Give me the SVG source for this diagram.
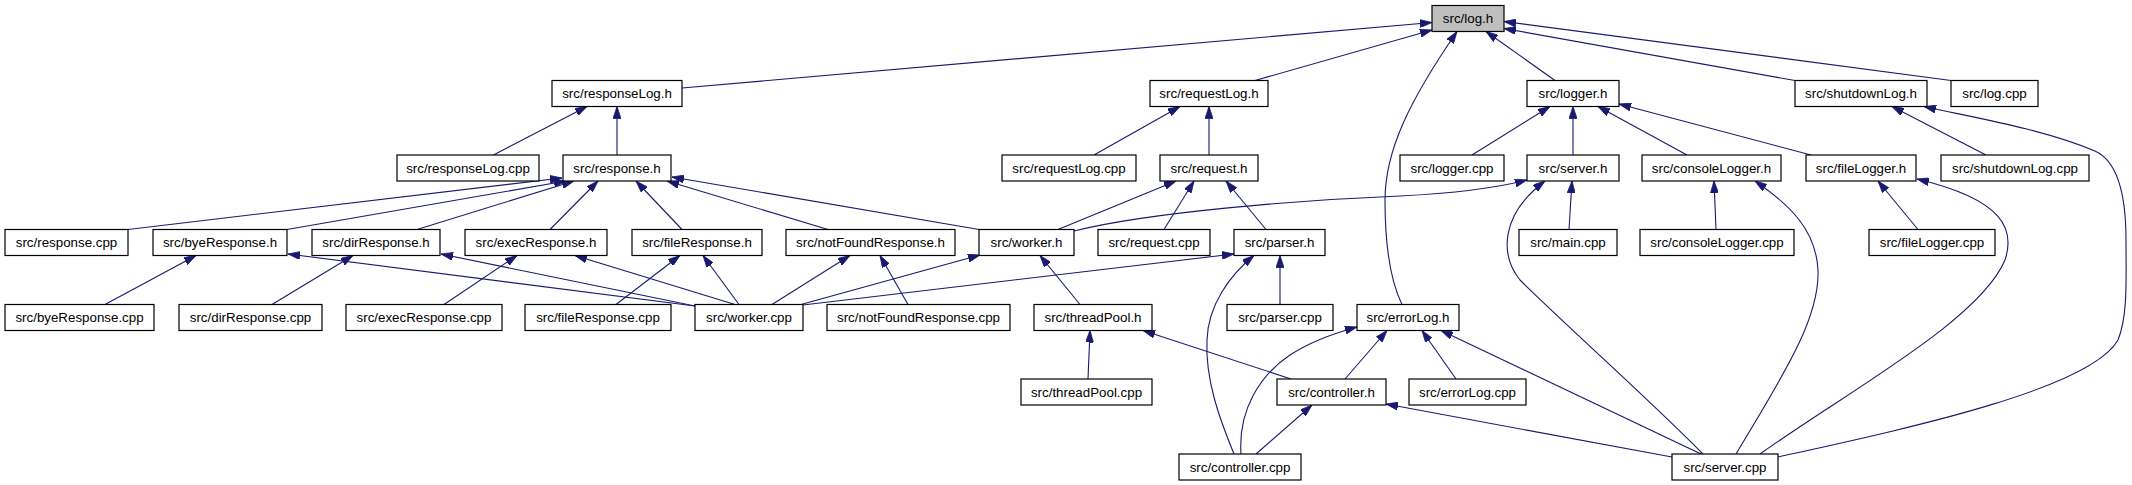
<svg xmlns="http://www.w3.org/2000/svg" width="2132" height="485" viewBox="0 0 2132 485">
<style>
.n rect{fill:#fff;stroke:#000;stroke-width:1.2}
.n.g rect{fill:#bfbfbf}
.n text{font-family:"Liberation Sans",Arial,sans-serif;font-size:13.33px;fill:#000;text-anchor:middle}
.e path{fill:none;stroke:#191970;stroke-width:1.1;marker-end:url(#ah)}
</style>
<defs>
<marker id="ah" viewBox="0 0 12 8" refX="12" refY="4" markerWidth="12" markerHeight="8" markerUnits="userSpaceOnUse" orient="auto">
<path d="M0,0 L12,4 L0,8 z" fill="#191970" stroke="#191970" stroke-width="0.8"/>
</marker>
</defs>
<rect width="2132" height="485" fill="#fff"/>
<g class="e" id="edges">
<path d="M682,88 L1432,22.5"/>
<path d="M1255,80.5 L1432,30"/>
<path d="M1402,304.5 C1390,280 1385,240 1385,200 C1385,150 1410,100 1457,31.5"/>
<path d="M1555,80.5 L1486,31.5"/>
<path d="M1795,80.5 L1504,28.5"/>
<path d="M1951,80.5 L1504,21.5"/>
<path d="M493.5,155 L587,106.5"/>
<path d="M617,155 L617,106.5"/>
<path d="M1094,155 L1180,106.5"/>
<path d="M1209,155 L1209,106.5"/>
<path d="M1472,155 L1550,106.5"/>
<path d="M1573,155 L1573,106.5"/>
<path d="M1687,155 L1598,106.5"/>
<path d="M1811,155 L1619,104"/>
<path d="M1986,155 L1892,106.5"/>
<path d="M1778,457 C1900,430 2090,390 2118,340 C2128,315 2126,280 2126,240 C2126,190 2115,160 2095,151 C2040,128 1970,117 1924,106.5"/>
<path d="M128,229.5 L562,178"/>
<path d="M287,229.5 L566,181"/>
<path d="M417,229.5 L574,181"/>
<path d="M550,229.5 L598,181"/>
<path d="M682,229.5 L636,181"/>
<path d="M828,229.5 L667,181"/>
<path d="M979,229.5 L672,177"/>
<path d="M105,304.5 L196,255.5"/>
<path d="M695,306 L288,254"/>
<path d="M272,304.5 L353,255.5"/>
<path d="M695,306 L441,254"/>
<path d="M444,304.5 L517,255.5"/>
<path d="M735,304.5 L575,255.5"/>
<path d="M616,304.5 L680,255.5"/>
<path d="M739,304.5 L703,255.5"/>
<path d="M772,304.5 L850,255.5"/>
<path d="M908,304.5 L880,255.5"/>
<path d="M801,304.5 L980,255"/>
<path d="M803,305 L1234,254"/>
<path d="M1080,304.5 L1040,255.5"/>
<path d="M1058,229.5 L1176,181"/>
<path d="M1164,229.5 L1194,181"/>
<path d="M1266,229.5 L1226,181"/>
<path d="M1074,231 C1150,212 1300,200 1400,196 C1460,193 1500,187 1527,180"/>
<path d="M1280,304.5 L1280,255.5"/>
<path d="M1234,454 C1220,420 1205,380 1207,340 C1208,305 1230,275 1254,255.5"/>
<path d="M1088,379 L1090,330.5"/>
<path d="M1291,379 L1143,330.5"/>
<path d="M1345,379 L1387,330.5"/>
<path d="M1241,454 C1238,410 1260,375 1290,355 C1310,342 1335,333 1357,327"/>
<path d="M1456,379 L1422,330.5"/>
<path d="M1701,454 L1441,330.5"/>
<path d="M1256,454 L1312,405"/>
<path d="M1672,457 L1386,404"/>
<path d="M1703,454 C1650,400 1560,320 1520,280 C1500,255 1500,215 1545,181"/>
<path d="M1569,229.5 L1572,181"/>
<path d="M1716,229.5 L1714,181"/>
<path d="M1736,454 C1780,380 1820,320 1818,270 C1816,230 1790,205 1755,181"/>
<path d="M1918,229.5 L1878,181"/>
<path d="M1760,454 C1850,390 1980,320 2005,260 C2015,230 2005,200 1917,179"/>
</g>
<g class="n g" id="log_h"><rect x="1432" y="5.5" width="72" height="26"/><text x="1468" y="23">src/log.h</text></g>
<g class="n" id="responseLog_h"><rect x="552" y="80.5" width="130" height="26"/><text x="617" y="98">src/responseLog.h</text></g>
<g class="n" id="requestLog_h"><rect x="1150" y="80.5" width="118" height="26"/><text x="1209" y="98">src/requestLog.h</text></g>
<g class="n" id="logger_h"><rect x="1527" y="80.5" width="92" height="26"/><text x="1573" y="98">src/logger.h</text></g>
<g class="n" id="shutdownLog_h"><rect x="1795" y="80.5" width="132" height="26"/><text x="1861" y="98">src/shutdownLog.h</text></g>
<g class="n" id="log_cpp"><rect x="1951" y="80.5" width="87" height="26"/><text x="1994.5" y="98">src/log.cpp</text></g>
<g class="n" id="responseLog_cpp"><rect x="397" y="155" width="142" height="26"/><text x="468" y="172.5">src/responseLog.cpp</text></g>
<g class="n" id="response_h"><rect x="563" y="155" width="108" height="26"/><text x="617" y="172.5">src/response.h</text></g>
<g class="n" id="requestLog_cpp"><rect x="1002" y="155" width="134" height="26"/><text x="1069" y="172.5">src/requestLog.cpp</text></g>
<g class="n" id="request_h"><rect x="1160" y="155" width="98" height="26"/><text x="1209" y="172.5">src/request.h</text></g>
<g class="n" id="logger_cpp"><rect x="1400" y="155" width="104" height="26"/><text x="1452" y="172.5">src/logger.cpp</text></g>
<g class="n" id="server_h"><rect x="1527" y="155" width="92" height="26"/><text x="1573" y="172.5">src/server.h</text></g>
<g class="n" id="consoleLogger_h"><rect x="1642" y="155" width="139" height="26"/><text x="1711.5" y="172.5">src/consoleLogger.h</text></g>
<g class="n" id="fileLogger_h"><rect x="1806" y="155" width="110" height="26"/><text x="1861" y="172.5">src/fileLogger.h</text></g>
<g class="n" id="shutdownLog_cpp"><rect x="1941" y="155" width="148" height="26"/><text x="2015" y="172.5">src/shutdownLog.cpp</text></g>
<g class="n" id="response_cpp"><rect x="5" y="229.5" width="123" height="26"/><text x="66.5" y="247">src/response.cpp</text></g>
<g class="n" id="byeResponse_h"><rect x="153" y="229.5" width="134" height="26"/><text x="220" y="247">src/byeResponse.h</text></g>
<g class="n" id="dirResponse_h"><rect x="312" y="229.5" width="128" height="26"/><text x="376" y="247">src/dirResponse.h</text></g>
<g class="n" id="execResponse_h"><rect x="465" y="229.5" width="142" height="26"/><text x="536" y="247">src/execResponse.h</text></g>
<g class="n" id="fileResponse_h"><rect x="632" y="229.5" width="130" height="26"/><text x="697" y="247">src/fileResponse.h</text></g>
<g class="n" id="notFoundResponse_h"><rect x="786" y="229.5" width="169" height="26"/><text x="870.5" y="247">src/notFoundResponse.h</text></g>
<g class="n" id="worker_h"><rect x="979" y="229.5" width="95" height="26"/><text x="1026.5" y="247">src/worker.h</text></g>
<g class="n" id="request_cpp"><rect x="1098" y="229.5" width="112" height="26"/><text x="1154" y="247">src/request.cpp</text></g>
<g class="n" id="parser_h"><rect x="1234" y="229.5" width="91" height="26"/><text x="1279.5" y="247">src/parser.h</text></g>
<g class="n" id="main_cpp"><rect x="1519" y="229.5" width="98" height="26"/><text x="1568" y="247">src/main.cpp</text></g>
<g class="n" id="consoleLogger_cpp"><rect x="1640" y="229.5" width="154" height="26"/><text x="1717" y="247">src/consoleLogger.cpp</text></g>
<g class="n" id="fileLogger_cpp"><rect x="1869" y="229.5" width="126" height="26"/><text x="1932" y="247">src/fileLogger.cpp</text></g>
<g class="n" id="byeResponse_cpp"><rect x="5" y="304.5" width="149" height="26"/><text x="79.5" y="322">src/byeResponse.cpp</text></g>
<g class="n" id="dirResponse_cpp"><rect x="179" y="304.5" width="143" height="26"/><text x="250.5" y="322">src/dirResponse.cpp</text></g>
<g class="n" id="execResponse_cpp"><rect x="346" y="304.5" width="156" height="26"/><text x="424" y="322">src/execResponse.cpp</text></g>
<g class="n" id="fileResponse_cpp"><rect x="525" y="304.5" width="146" height="26"/><text x="598" y="322">src/fileResponse.cpp</text></g>
<g class="n" id="worker_cpp"><rect x="695" y="304.5" width="108" height="26"/><text x="749" y="322">src/worker.cpp</text></g>
<g class="n" id="notFoundResponse_cpp"><rect x="827" y="304.5" width="183" height="26"/><text x="918.5" y="322">src/notFoundResponse.cpp</text></g>
<g class="n" id="threadPool_h"><rect x="1034" y="304.5" width="118" height="26"/><text x="1093" y="322">src/threadPool.h</text></g>
<g class="n" id="parser_cpp"><rect x="1227" y="304.5" width="106" height="26"/><text x="1280" y="322">src/parser.cpp</text></g>
<g class="n" id="errorLog_h"><rect x="1357" y="304.5" width="102" height="26"/><text x="1408" y="322">src/errorLog.h</text></g>
<g class="n" id="threadPool_cpp"><rect x="1021" y="379" width="131" height="26"/><text x="1086.5" y="396.5">src/threadPool.cpp</text></g>
<g class="n" id="controller_h"><rect x="1277" y="379" width="109" height="26"/><text x="1331.5" y="396.5">src/controller.h</text></g>
<g class="n" id="errorLog_cpp"><rect x="1409" y="379" width="117" height="26"/><text x="1467.5" y="396.5">src/errorLog.cpp</text></g>
<g class="n" id="controller_cpp"><rect x="1179" y="454" width="122" height="26"/><text x="1240" y="471.5">src/controller.cpp</text></g>
<g class="n" id="server_cpp"><rect x="1672" y="454" width="106" height="26"/><text x="1725" y="471.5">src/server.cpp</text></g>
</svg>
